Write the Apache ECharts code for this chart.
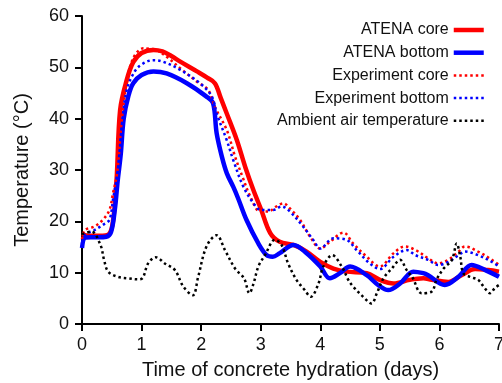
<!DOCTYPE html>
<html><head><meta charset="utf-8">
<script src="https://cdn.jsdelivr.net/npm/echarts@6/dist/echarts.min.js"></script>
<style>html,body{margin:0;padding:0;background:#fff}#c{width:502px;height:383px}</style>
</head><body><div id="c"></div>
<script>
var xTicks = [0,1,2,3,4,5,6,7];
var yTicks = [0,10,20,30,40,50,60];
var seriesNames = ["ATENA core","ATENA bottom","Experiment core","Experiment bottom","Ambient air temperature"];

var atenaCoreDays = [0,0.1,0.3,0.45,0.52,0.58,0.64,0.75,0.86,1.0,1.2,1.35,1.5,1.65,1.93,2.1,2.23,2.33,2.43,2.6,2.74,2.88,3.0,3.16,3.32,3.55,3.77,4.0,4.22,4.44,4.78,5.0,5.23,5.5,5.73,5.87,6.15,6.37,6.6,6.82,7.0];
var atenaCoreTemp = [17.5,17.2,17.2,17.5,20,28,41.7,47.5,51,52.8,53.4,53.1,52.2,51.1,49.2,48,46.9,44,41,35.8,30.6,26,22.5,17.7,16,15.4,14.1,12.1,10.8,10.2,9.9,8.6,7.9,8.6,8.9,8.6,8.2,9.5,10.7,10.5,10.2];

var atenaBottomDays = [0,0.05,0.15,0.27,0.41,0.49,0.55,0.6,0.65,0.7,0.78,0.86,1.0,1.2,1.42,1.76,2.09,2.2,2.26,2.35,2.43,2.54,2.62,2.76,2.96,3.1,3.2,3.32,3.55,3.77,4.0,4.16,4.33,4.5,4.78,4.97,5.14,5.34,5.56,5.73,5.81,6.09,6.32,6.54,6.77,7.0];
var atenaBottomTemp = [14.8,16.8,16.9,16.9,17,18,22.2,28,33,40,44.5,46.9,48.5,49.2,48.8,46.9,44.3,43,37.2,32.5,29.4,26.7,24.5,20.3,15.7,13.4,13.1,13.8,15.4,13.8,11.2,8.9,9.9,11.2,9.5,7.6,6.6,7.9,10.2,9.9,9.5,7.6,9.2,11.5,10.5,9.2];

var expCoreDays = [0,0.05,0.21,0.35,0.46,0.52,0.59,0.67,0.75,0.86,1.03,1.15,1.25,1.45,1.65,1.93,2.12,2.23,2.43,2.57,2.7,2.82,2.99,3.13,3.25,3.38,3.49,3.66,3.83,4.0,4.16,4.39,4.55,4.78,5.0,5.23,5.42,5.6,5.81,5.98,6.15,6.32,6.43,6.65,6.88,7.0];
var expCoreTemp = [16.5,18.3,19,20.3,22.2,25.5,29.4,40,47,51.8,53.7,53.6,53.4,51.8,49.8,47.2,45.6,42.3,37.8,32.6,28.5,25,21.9,21.9,22.8,23.5,22.5,20.3,17,14.7,16,17.8,15.7,13.1,11.2,13.8,15.1,14.4,12.8,11.8,12.5,14.1,15.1,14.1,12.5,11.5];

var expBottomDays = [0,0.05,0.21,0.35,0.46,0.52,0.6,0.68,0.75,0.85,0.97,1.2,1.36,1.65,1.98,2.18,2.26,2.43,2.54,2.71,2.88,3.0,3.1,3.21,3.35,3.49,3.71,3.88,4.0,4.22,4.44,4.61,4.83,5.0,5.23,5.45,5.6,5.81,5.98,6.15,6.32,6.43,6.65,6.88,7.0];
var expBottomTemp = [15,17.3,18.3,19.3,20.3,24.2,30,40,45.5,48.5,50.3,51.4,51.1,49.5,46.9,44.3,41,35.8,31.9,26.7,23.5,22.2,22.2,22.2,22.9,21.9,19,16.4,14.7,16.7,16.4,14.4,11.8,10.7,13.1,14.4,13.4,12.5,11.5,12.1,13.4,14.1,13.4,12.1,11.2];

var ambientDays = [0,0.16,0.31,0.37,0.44,0.6,0.77,0.94,1.02,1.11,1.24,1.39,1.56,1.7,1.86,1.95,2.09,2.26,2.4,2.57,2.72,2.81,2.88,2.96,3.07,3.24,3.35,3.46,3.6,3.74,3.84,3.97,4.05,4.2,4.36,4.47,4.55,4.72,4.86,4.95,5.06,5.2,5.34,5.45,5.55,5.7,5.87,5.95,6.07,6.21,6.29,6.35,6.4,6.51,6.65,6.74,6.85,6.93,7.0];
var ambientTemp = [17.5,18,15.4,12.5,10.2,9.2,8.9,8.7,9,11.8,13,11.8,10.5,7.3,5.6,9.2,15.1,17.3,14.4,10.8,8.9,6,7.9,11.2,13.4,16.4,15.4,11.8,8.6,6.6,5.3,7.9,11.2,13.4,11.2,8.6,7.3,5.3,4,6,8.9,10.8,12.5,10.5,9,6,6.3,8.6,10.8,12.5,15.7,13.1,9.9,9.2,8.6,7.3,6,7,7.6];

function pairs(xs, ys){ return xs.map(function(x,i){ return [x, ys[i]]; }); }

var chart = echarts.init(document.getElementById('c'), null, {renderer:'canvas'});
var font = 'Liberation Sans, Arial, sans-serif';
var axisCommon = {
  axisLine:{show:true,lineStyle:{color:'#000',width:2}},
  axisTick:{show:true,inside:false,length:7,lineStyle:{color:'#000',width:2}},
  splitLine:{show:false},
  nameTextStyle:{color:'#111',fontSize:20,fontFamily:font}
};
function mk(name, xs, ys, color, dotted, w){
  return {name:name,type:'line',data:pairs(xs,ys),symbol:'none',smooth:0.35,
    lineStyle:{color:color,width:w,type:dotted?[2.5,3]:'solid',cap:'butt'},
    itemStyle:{color:color},z:2};
}
chart.setOption({
  animation:false,
  grid:{left:82,right:3,top:16,bottom:59,containLabel:false,outerBoundsMode:'none'},
  legend:{orient:'vertical',right:11,top:17,align:'right',itemWidth:30,itemHeight:14,itemGap:6.7,
    itemStyle:{opacity:0},lineStyle:{width:'inherit'},
    textStyle:{color:'#111',fontSize:16,fontFamily:font},
    data:seriesNames},
  xAxis:Object.assign({type:'value',min:0,max:7,interval:1,name:'Time of concrete hydration (days)',
    nameLocation:'middle',nameGap:36},axisCommon,{axisLabel:{color:'#111',fontSize:18,fontFamily:font,margin:12,formatter:function(v){return xTicks.indexOf(v)>=0?String(v):'';}}}),
  yAxis:Object.assign({type:'value',min:0,max:60,interval:10,name:'Temperature (\u00B0C)',
    nameLocation:'middle',nameGap:50},axisCommon,{axisLabel:{color:'#111',fontSize:18,fontFamily:font,margin:13,formatter:function(v){return yTicks.indexOf(v)>=0?String(v):'';}}}),
  series:[
    mk(seriesNames[0],atenaCoreDays,atenaCoreTemp,'#ff0000',false,4.5),
    mk(seriesNames[1],atenaBottomDays,atenaBottomTemp,'#0000ff',false,4.5),
    mk(seriesNames[2],expCoreDays,expCoreTemp,'#ff0000',true,2.5),
    mk(seriesNames[3],expBottomDays,expBottomTemp,'#0000ff',true,2.5),
    mk(seriesNames[4],ambientDays,ambientTemp,'#000000',true,2.5)
  ]
});
</script></body></html>
